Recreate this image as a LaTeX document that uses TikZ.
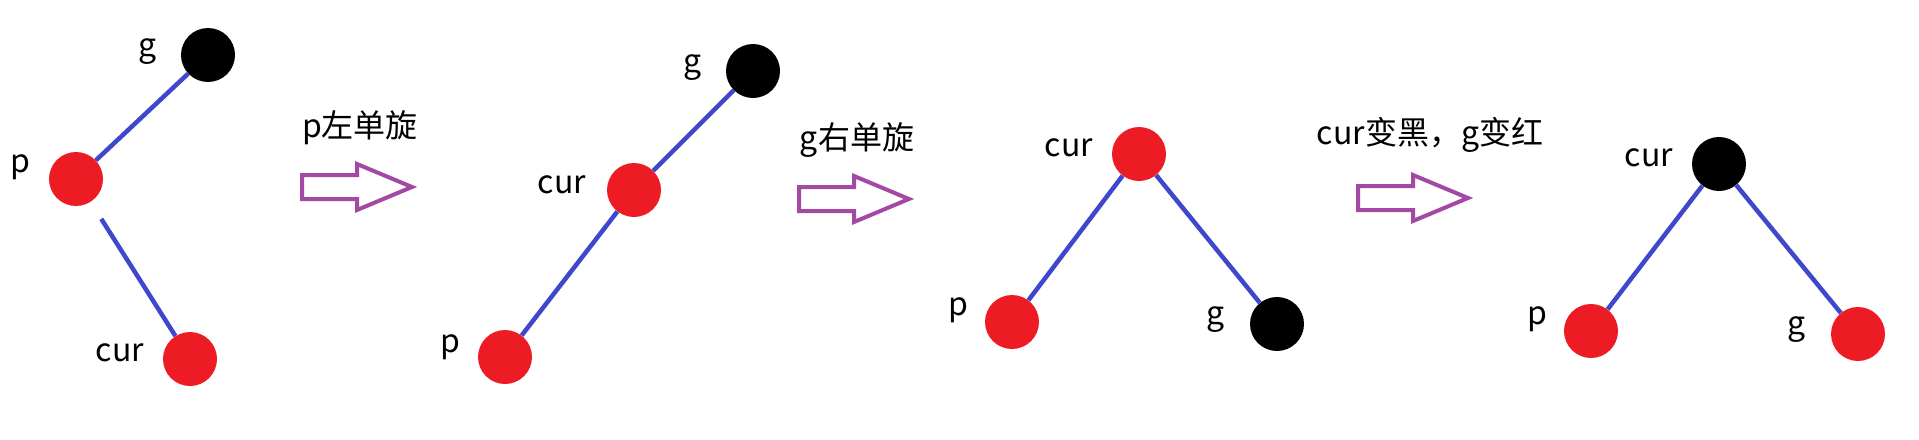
\documentclass[tikz,border=0pt]{standalone}
\usepackage{fontspec}
\setmainfont{Noto Sans CJK SC}
\definecolor{nred}{HTML}{ED1C24}
\definecolor{eblue}{HTML}{3F48CC}
\definecolor{apurple}{HTML}{A349A4}
\begin{document}
\begin{tikzpicture}[x=1pt,y=-1pt,
  rnode/.style={circle,fill=nred,minimum size=54pt,inner sep=0pt},
  bnode/.style={circle,fill=black,minimum size=54pt,inner sep=0pt},
  lab/.style={font=\fontsize{32}{38}\selectfont,inner sep=0pt},
  tedge/.style={draw=eblue,line width=4.5pt},
  rot/.style={draw=apurple,line width=4pt,fill=white,line join=miter},
  turn/.pic={\draw[rot] (0,-12) -- (55,-12) -- (55,-23) -- (110,0) -- (55,23) -- (55,12) -- (0,12) -- cycle;}]
\useasboundingbox (0,0) rectangle (1919,439);
% tree 1
\node[bnode] (g1) at (208,55) {};
\node[rnode] (p1) at (76,179) {};
\node[rnode] (c1) at (190,359) {};
\node[lab] (lg1) at (148,52) {g};
\node[lab] (lp1) at (20,167) {p};
\node[lab] (lc1) at (120,353) {cur};
\draw[tedge] (g1) -- (p1);
\draw[tedge,shorten <=20pt] (p1) -- (c1);
% arrow 1
\pic at (302,187) {turn};
\node[lab] (t1) at (360,128) {p左单旋};
% tree 2
\node[bnode] (g2) at (753,71) {};
\node[rnode] (c2) at (634,190) {};
\node[rnode] (p2) at (505,357) {};
\node[lab] (lg2) at (693,68) {g};
\node[lab] (lc2) at (562,185) {cur};
\node[lab] (lp2) at (450,347) {p};
\draw[tedge] (g2) -- (c2);
\draw[tedge] (c2) -- (p2);
% arrow 2
\pic at (799,199) {turn};
\node[lab] (t2) at (857,140) {g右单旋};
% tree 3
\node[rnode] (c3) at (1139,154) {};
\node[rnode] (p3) at (1012,322) {};
\node[bnode] (g3) at (1277,324) {};
\node[lab] (lc3) at (1069,148) {cur};
\node[lab] (lp3) at (958,310) {p};
\node[lab] (lg3) at (1216,320) {g};
\draw[tedge] (c3) -- (p3);
\draw[tedge] (c3) -- (g3);
% arrow 3
\pic at (1358,198) {turn};
\node[lab] (t3) at (1430,135) {cur变黑，g变红};
% tree 4
\node[bnode] (c4) at (1719,164) {};
\node[rnode] (p4) at (1591,331) {};
\node[rnode] (g4) at (1858,334) {};
\node[lab] (lc4) at (1649,158) {cur};
\node[lab] (lp4) at (1537,319) {p};
\node[lab] (lg4) at (1797,330) {g};
\draw[tedge] (c4) -- (p4);
\draw[tedge] (c4) -- (g4);
\end{tikzpicture}
\end{document}
